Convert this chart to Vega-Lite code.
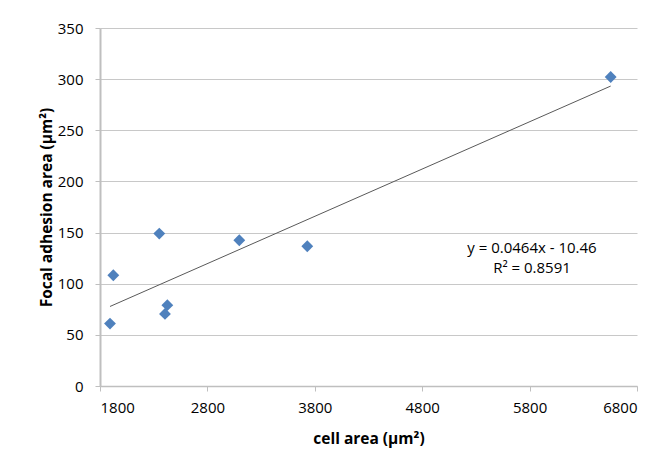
{
  "$schema": "https://vega.github.io/schema/vega-lite/v6.json",
  "width": 537,
  "height": 358,
  "autosize": {"type": "none"},
  "padding": {"left": 100, "top": 28, "right": 20, "bottom": 73},
  "background": "white",
  "config": {
    "view": {"stroke": null},
    "font": "Open Sans",
    "axis": {
      "labelFont": "Open Sans",
      "labelFontSize": 15,
      "labelColor": "#000000",
      "titleFont": "Open Sans",
      "titleFontSize": 15.5,
      "titleFontWeight": "bold",
      "titleColor": "#000000",
      "domainColor": "#bfbfbf",
      "tickColor": "#bfbfbf",
      "gridColor": "#c8c8c8",
      "tickSize": 5
    }
  },
  "datasets": {
    "points": [
      {"cell": 1893, "fa": 61},
      {"cell": 1924, "fa": 108.3},
      {"cell": 2352, "fa": 149},
      {"cell": 2427, "fa": 79},
      {"cell": 2405, "fa": 70.5},
      {"cell": 3097, "fa": 142.5},
      {"cell": 3730, "fa": 136.6},
      {"cell": 6555, "fa": 302.1}
    ],
    "labels": [
      {"cell": 5822, "fa": 134.5, "text": "y = 0.0464x - 10.46"},
      {"cell": 5822, "fa": 115.5, "text": "R² = 0.8591"}
    ]
  },
  "layer": [
    {
      "data": {"name": "points"},
      "transform": [{"regression": "fa", "on": "cell"}],
      "mark": {"type": "line", "color": "#595959", "strokeWidth": 1},
      "encoding": {
        "x": {"field": "cell", "type": "quantitative"},
        "y": {"field": "fa", "type": "quantitative"}
      }
    },
    {
      "data": {"name": "points"},
      "mark": {"type": "point", "shape": "diamond", "filled": true, "color": "#4f81bd", "opacity": 1, "size": 140},
      "encoding": {
        "x": {
          "field": "cell", "type": "quantitative",
          "scale": {"domain": [1800, 6800], "nice": false, "zero": false},
          "axis": {"values": [1800, 2800, 3800, 4800, 5800, 6800], "format": "d", "grid": false, "title": "cell area (µm²)", "labelPadding": 9, "titlePadding": 16, "domainWidth": 1.5}
        },
        "y": {
          "field": "fa", "type": "quantitative",
          "scale": {"domain": [0, 350], "nice": false},
          "axis": {"values": [0, 50, 100, 150, 200, 250, 300, 350], "format": "d", "grid": true, "title": "Focal adhesion area (µm²)", "labelPadding": 12, "titlePadding": 3, "domainWidth": 2}
        }
      }
    },
    {
      "data": {"name": "labels"},
      "mark": {"type": "text", "font": "Open Sans", "fontSize": 15, "color": "#000000", "align": "center", "baseline": "middle"},
      "encoding": {
        "x": {"field": "cell", "type": "quantitative"},
        "y": {"field": "fa", "type": "quantitative"},
        "text": {"field": "text"}
      }
    }
  ]
}
